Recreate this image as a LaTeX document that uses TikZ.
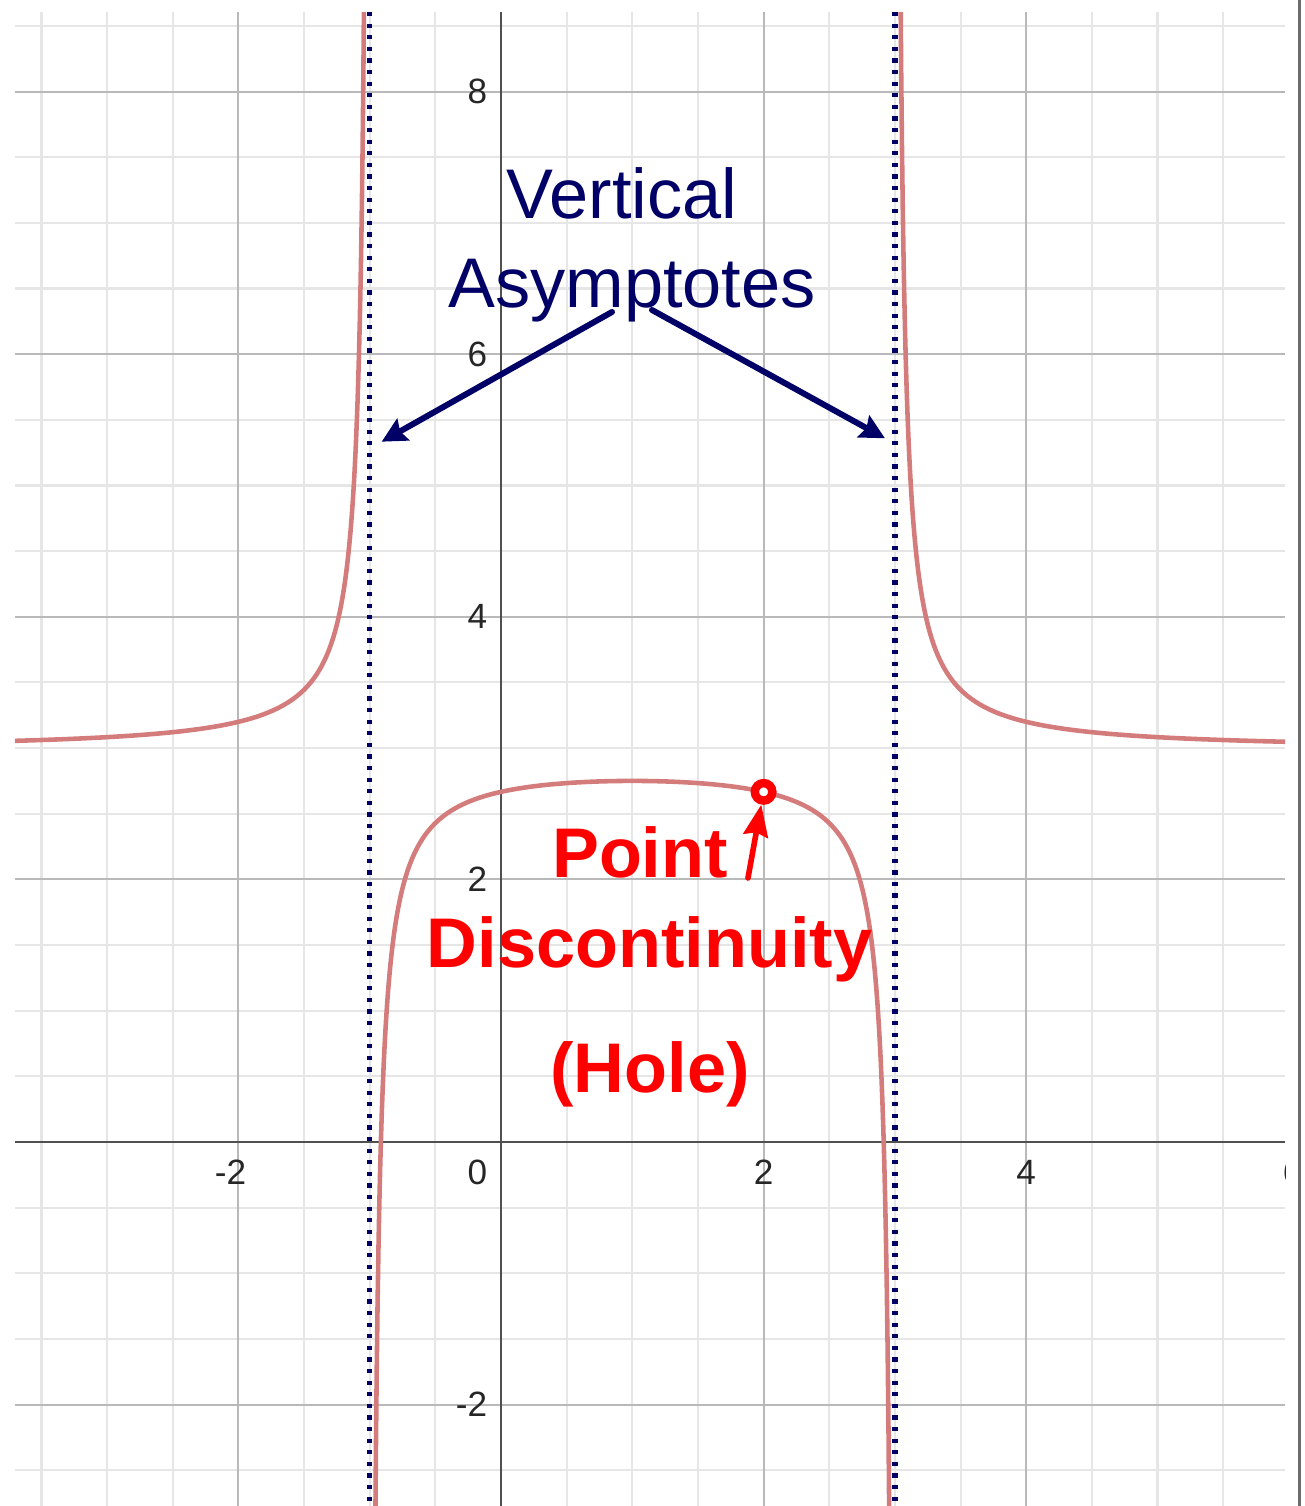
\documentclass[tikz,border=0pt]{standalone}
\usepackage{fontspec}
\setmainfont{Liberation Sans}
\usepackage{tikz}
\usepackage{xcolor}
\usetikzlibrary{arrows.meta}
\definecolor{gridminor}{RGB}{230,230,230}
\definecolor{gridmajor}{RGB}{185,185,185}
\definecolor{axisgray}{RGB}{80,80,80}
\definecolor{curvepink}{RGB}{212,124,124}
\definecolor{asymnavy}{RGB}{0,0,102}
\definecolor{holered}{RGB}{255,0,0}

\tikzset{
  minorgrid/.style={gridminor, line width=0.6pt},
  majorgrid/.style={gridmajor, line width=0.6pt},
  asymline/.style={asymnavy, line width=1.5pt, dash pattern=on 1.2pt off 2.1pt},
  graphcurve/.style={curvepink, line width=1.3pt},
  ticklabel/.style={font=\fontsize{10}{12}\selectfont, text=black!85, inner sep=0pt},
  navylabel/.style={font=\fontsize{20}{24}\selectfont, text=asymnavy, inner sep=0pt, anchor=base},
  redlabel/.style={font=\fontsize{20}{24}\selectfont\bfseries, text=holered, inner sep=0pt, anchor=base},
  navyarrow/.style={asymnavy, line width=1.7pt, line cap=round, -{Stealth[length=7pt,width=7pt,inset=1pt]}},
  redarrow/.style={holered, line width=1.6pt, line cap=round, -{Stealth[length=9pt,width=7pt,inset=1pt]}},
}

\begin{document}
\begin{tikzpicture}[x=1.313cm, y=1.313cm, >=Stealth]
    \useasboundingbox (-3.8157,-2.7723) rectangle (6.1234,8.6976);
    % Grid
    \foreach \gx in {-3.5,-3,...,5.5} \draw[minorgrid] (\gx,-2.7723) -- (\gx,8.606);
    \foreach \gy in {-2.5,-2,...,8.5} \draw[minorgrid] (-3.7015,\gy) -- (5.971,\gy);
    \foreach \gx in {-2,2,4} \draw[majorgrid] (\gx,-2.7723) -- (\gx,8.606);
    \foreach \gy in {-2,2,4,6,8} \draw[majorgrid] (-3.7015,\gy) -- (5.971,\gy);
    % Axes
    \draw[axisgray, line width=0.6pt] (-3.7015,0) -- (5.971,0);
    \draw[axisgray, line width=0.6pt] (0,-2.7723) -- (0,8.606);
    \draw[gray!85!black, line width=1.1pt] (6.0815,-2.7723) -- (6.0815,8.6976);
    % Tick labels
    \foreach \ty/\tn in {-2/m2,2/p2,4/p4,6/p6,8/p8}
        \node[ticklabel, anchor=east] (ylab\tn) at (-0.1,\ty) {\ty};
    \node[ticklabel] (xlabm2) at (-2.06,-0.232) {-2};
    \node[ticklabel, anchor=east] (xlab0) at (-0.1,-0.232) {0};
    \node[ticklabel] (xlabp2) at (2,-0.232) {2};
    \node[ticklabel] (xlabp4) at (4,-0.232) {4};
    % Curve y = 3 + 1/((x+1)(x-3)), clipped to the window
    \begin{scope}
        \clip (-3.7015,-2.7723) rectangle (5.971,8.606);
        \node[ticklabel] (xlabp6) at (6.03,-0.232) {6};
        \draw[graphcurve, domain=-3.75:-1.03, samples=500] plot (\x,{3+1/((\x+1)*(\x-3))});
        \draw[graphcurve, domain=-0.966:2.966, samples=600] plot (\x,{3+1/((\x+1)*(\x-3))});
        \draw[graphcurve, domain=3.03:6, samples=500] plot (\x,{3+1/((\x+1)*(\x-3))});
    \end{scope}
    % Vertical asymptotes
    \draw[asymline] (-1,8.606) -- (-1,-2.7723);
    \draw[asymline] (3,8.606) -- (3,-2.7723);
    % Hole at x = 2
    \node[circle, draw=holered, line width=2.4pt, fill=white, minimum size=0.175cm, inner sep=0pt] (hole) at (2,2.6667) {};
    % Labels
    \node[navylabel] (vert) at (0.9216,7.037) {Vertical};
    \node[navylabel] (asym) at (0.9977,6.359) {Asymptotes};
    \coordinate (leftstart) at (0.8454,6.3214);
    \coordinate (lefttip) at (-0.9086,5.3336);
    \coordinate (rightstart) at (1.1500,6.3366);
    \coordinate (righttip) at (2.9246,5.3595);
    \draw[navyarrow] (leftstart) -- (lefttip);
    \draw[navyarrow] (rightstart) -- (righttip);
    \node[redlabel] (point) at (1.0587,2.0107) {Point};
    \node[redlabel] (disc) at (1.131,1.3328) {Discontinuity};
    \node[redlabel] (holetext) at (1.1348,0.3732) {(Hole)};
    \coordinate (redstart) at (1.881,2.0107);
    \draw[redarrow] (redstart) -- (hole);
\end{tikzpicture}
\end{document}
